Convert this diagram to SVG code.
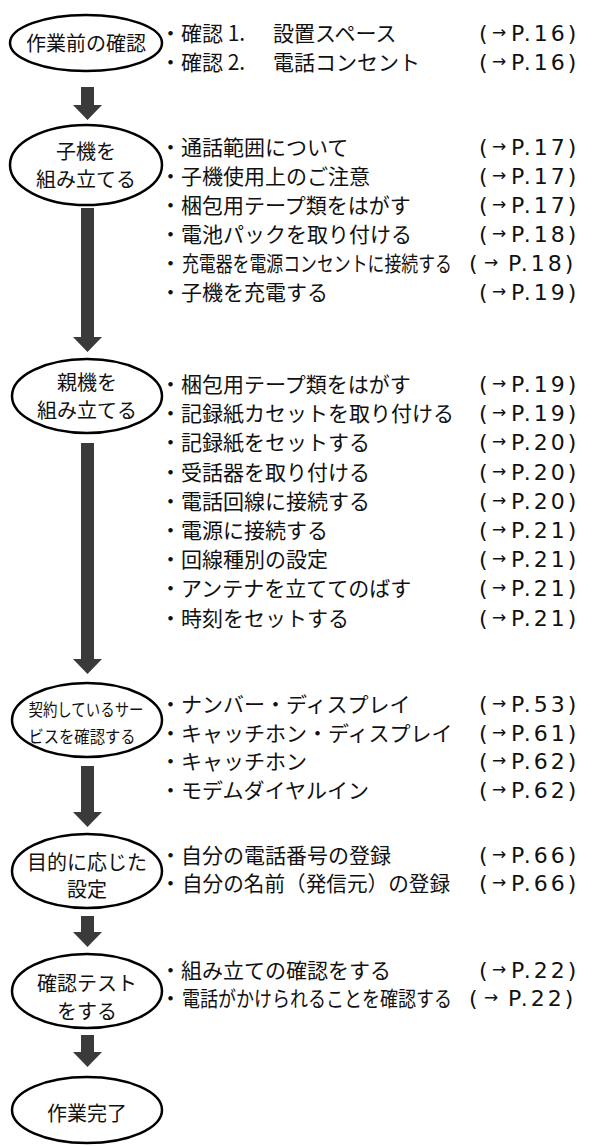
<svg xmlns="http://www.w3.org/2000/svg" width="597" height="1146" viewBox="0 0 597 1146">
<style>
.bg{fill:#fff}
.node ellipse{fill:#fff;stroke:#000;stroke-width:2.5}
.lbl{font-family:"Noto Sans CJK JP","Noto Sans",sans-serif;font-size:20px;fill:#111;text-anchor:middle}
.lbl.s{font-size:17px}
.it{font-family:"Noto Sans CJK JP","Noto Sans",sans-serif;font-size:21px;fill:#111}
.ref{font-family:"DejaVu Sans","Noto Sans CJK JP",sans-serif;font-size:22px;fill:#111}
.ref .ar{font-size:17px}
.ref .pn{letter-spacing:3px}
.arrow{fill:#3a3a3a}
</style>
<rect class="bg" width="597" height="1146"/>
<g id="connectors">
<path class="arrow" d="M81,87H94V105H102L87.5,120L73,105H81Z"/>
<path class="arrow" d="M81,208H94V337H102L87.5,352L73,337H81Z"/>
<path class="arrow" d="M81,443H94V659H102L87.5,674L73,659H81Z"/>
<path class="arrow" d="M81,766H94V812H102L87.5,827L73,812H81Z"/>
<path class="arrow" d="M81,916H94V932H102L87.5,947L73,932H81Z"/>
<path class="arrow" d="M81,1035H94V1052H102L87.5,1067L73,1052H81Z"/>
</g>
<g id="node1" class="node">
<ellipse cx="86" cy="43" rx="76" ry="28"/>
<text class="lbl" x="86" y="51">作業前の確認</text>
</g>
<g id="node2" class="node">
<ellipse cx="86" cy="165" rx="76" ry="40"/>
<text class="lbl" x="86" y="159">子機を</text>
<text class="lbl" x="86" y="187">組み立てる</text>
</g>
<g id="node3" class="node">
<ellipse cx="87" cy="396" rx="75" ry="37"/>
<text class="lbl" x="87" y="390">親機を</text>
<text class="lbl" x="87" y="418">組み立てる</text>
</g>
<g id="node4" class="node">
<ellipse cx="87" cy="720" rx="75" ry="37"/>
<text class="lbl s" x="86" y="716" textLength="115" lengthAdjust="spacingAndGlyphs">契約しているサー</text>
<text class="lbl s" x="82" y="743" textLength="107" lengthAdjust="spacingAndGlyphs">ビスを確認する</text>
</g>
<g id="node5" class="node">
<ellipse cx="87" cy="871" rx="75" ry="37"/>
<text class="lbl" x="87" y="870">目的に応じた</text>
<text class="lbl" x="87" y="897">設定</text>
</g>
<g id="node6" class="node">
<ellipse cx="87" cy="991" rx="75" ry="37"/>
<text class="lbl" x="87" y="991">確認テスト</text>
<text class="lbl" x="87" y="1019">をする</text>
</g>
<g id="node7" class="node">
<ellipse cx="87" cy="1110" rx="75" ry="33"/>
<text class="lbl" x="87" y="1121">作業完了</text>
</g>
<g id="items1">
<text class="it" y="41"><tspan x="160">・確認 1.</tspan><tspan x="273">設置スペース</tspan></text>
<text class="ref" y="41"><tspan x="479">(</tspan><tspan class="ar" x="492" dy="-3">→</tspan><tspan class="pn" x="511" dy="3">P.16)</tspan></text>
<text class="it" y="70"><tspan x="160">・確認 2.</tspan><tspan x="273">電話コンセント</tspan></text>
<text class="ref" y="70"><tspan x="479">(</tspan><tspan class="ar" x="492" dy="-3">→</tspan><tspan class="pn" x="511" dy="3">P.16)</tspan></text>
</g>
<g id="items2">
<text class="it" x="160" y="155">・通話範囲について</text>
<text class="ref" y="155"><tspan x="479">(</tspan><tspan class="ar" x="492" dy="-3">→</tspan><tspan class="pn" x="511" dy="3">P.17)</tspan></text>
<text class="it" x="160" y="184">・子機使用上のご注意</text>
<text class="ref" y="184"><tspan x="479">(</tspan><tspan class="ar" x="492" dy="-3">→</tspan><tspan class="pn" x="511" dy="3">P.17)</tspan></text>
<text class="it" x="160" y="213">・梱包用テープ類をはがす</text>
<text class="ref" y="213"><tspan x="479">(</tspan><tspan class="ar" x="492" dy="-3">→</tspan><tspan class="pn" x="511" dy="3">P.17)</tspan></text>
<text class="it" x="160" y="242">・電池パックを取り付ける</text>
<text class="ref" y="242"><tspan x="479">(</tspan><tspan class="ar" x="492" dy="-3">→</tspan><tspan class="pn" x="511" dy="3">P.18)</tspan></text>
<text class="it" x="160" y="271">・</text>
<text class="it" x="182" y="271" textLength="270" lengthAdjust="spacingAndGlyphs">充電器を電源コンセントに接続する</text>
<text class="ref" y="271"><tspan x="469">(</tspan><tspan class="ar" x="484" dy="-3">→</tspan><tspan class="pn" x="508" dy="3">P.18)</tspan></text>
<text class="it" x="160" y="300">・子機を充電する</text>
<text class="ref" y="300"><tspan x="479">(</tspan><tspan class="ar" x="492" dy="-3">→</tspan><tspan class="pn" x="511" dy="3">P.19)</tspan></text>
</g>
<g id="items3">
<text class="it" x="160" y="392">・梱包用テープ類をはがす</text>
<text class="ref" y="392"><tspan x="479">(</tspan><tspan class="ar" x="492" dy="-3">→</tspan><tspan class="pn" x="511" dy="3">P.19)</tspan></text>
<text class="it" x="160" y="421">・記録紙カセットを取り付ける</text>
<text class="ref" y="421"><tspan x="479">(</tspan><tspan class="ar" x="492" dy="-3">→</tspan><tspan class="pn" x="511" dy="3">P.19)</tspan></text>
<text class="it" x="160" y="450">・記録紙をセットする</text>
<text class="ref" y="450"><tspan x="479">(</tspan><tspan class="ar" x="492" dy="-3">→</tspan><tspan class="pn" x="511" dy="3">P.20)</tspan></text>
<text class="it" x="160" y="480">・受話器を取り付ける</text>
<text class="ref" y="480"><tspan x="479">(</tspan><tspan class="ar" x="492" dy="-3">→</tspan><tspan class="pn" x="511" dy="3">P.20)</tspan></text>
<text class="it" x="160" y="509">・電話回線に接続する</text>
<text class="ref" y="509"><tspan x="479">(</tspan><tspan class="ar" x="492" dy="-3">→</tspan><tspan class="pn" x="511" dy="3">P.20)</tspan></text>
<text class="it" x="160" y="538">・電源に接続する</text>
<text class="ref" y="538"><tspan x="479">(</tspan><tspan class="ar" x="492" dy="-3">→</tspan><tspan class="pn" x="511" dy="3">P.21)</tspan></text>
<text class="it" x="160" y="567">・回線種別の設定</text>
<text class="ref" y="567"><tspan x="479">(</tspan><tspan class="ar" x="492" dy="-3">→</tspan><tspan class="pn" x="511" dy="3">P.21)</tspan></text>
<text class="it" x="160" y="596">・アンテナを立ててのばす</text>
<text class="ref" y="596"><tspan x="479">(</tspan><tspan class="ar" x="492" dy="-3">→</tspan><tspan class="pn" x="511" dy="3">P.21)</tspan></text>
<text class="it" x="160" y="626">・時刻をセットする</text>
<text class="ref" y="626"><tspan x="479">(</tspan><tspan class="ar" x="492" dy="-3">→</tspan><tspan class="pn" x="511" dy="3">P.21)</tspan></text>
</g>
<g id="items4">
<text class="it" x="160" y="712">・ナンバー・ディスプレイ</text>
<text class="ref" y="712"><tspan x="479">(</tspan><tspan class="ar" x="492" dy="-3">→</tspan><tspan class="pn" x="511" dy="3">P.53)</tspan></text>
<text class="it" x="160" y="741">・キャッチホン・ディスプレイ</text>
<text class="ref" y="741"><tspan x="479">(</tspan><tspan class="ar" x="492" dy="-3">→</tspan><tspan class="pn" x="511" dy="3">P.61)</tspan></text>
<text class="it" x="160" y="769">・キャッチホン</text>
<text class="ref" y="769"><tspan x="479">(</tspan><tspan class="ar" x="492" dy="-3">→</tspan><tspan class="pn" x="511" dy="3">P.62)</tspan></text>
<text class="it" x="160" y="798">・モデムダイヤルイン</text>
<text class="ref" y="798"><tspan x="479">(</tspan><tspan class="ar" x="492" dy="-3">→</tspan><tspan class="pn" x="511" dy="3">P.62)</tspan></text>
</g>
<g id="items5">
<text class="it" x="160" y="863">・自分の電話番号の登録</text>
<text class="ref" y="863"><tspan x="479">(</tspan><tspan class="ar" x="492" dy="-3">→</tspan><tspan class="pn" x="511" dy="3">P.66)</tspan></text>
<text class="it" x="160" y="891">・</text>
<text class="it" x="182" y="891" textLength="268" lengthAdjust="spacingAndGlyphs">自分の名前（発信元）の登録</text>
<text class="ref" y="891"><tspan x="479">(</tspan><tspan class="ar" x="492" dy="-3">→</tspan><tspan class="pn" x="511" dy="3">P.66)</tspan></text>
</g>
<g id="items6">
<text class="it" x="160" y="978">・組み立ての確認をする</text>
<text class="ref" y="978"><tspan x="479">(</tspan><tspan class="ar" x="492" dy="-3">→</tspan><tspan class="pn" x="511" dy="3">P.22)</tspan></text>
<text class="it" x="160" y="1006">・</text>
<text class="it" x="182" y="1006" textLength="270" lengthAdjust="spacingAndGlyphs">電話がかけられることを確認する</text>
<text class="ref" y="1006"><tspan x="469">(</tspan><tspan class="ar" x="484" dy="-3">→</tspan><tspan class="pn" x="508" dy="3">P.22)</tspan></text>
</g>
</svg>
